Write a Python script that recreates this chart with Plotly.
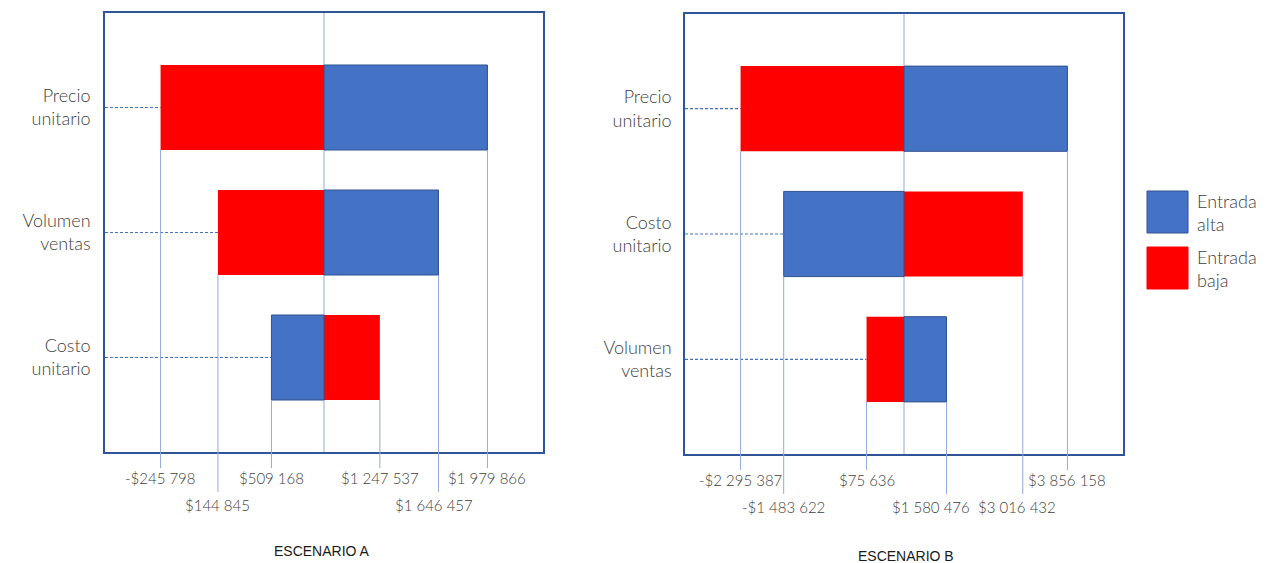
import plotly.graph_objects as go

# ---------------- data ----------------
categories_A = ["Precio<br>unitario", "Volumen<br>ventas", "Costo<br>unitario"]
alta_A = [1979866, 1646457, 509168]      # Entrada alta
baja_A = [-245798, 144845, 1247537]      # Entrada baja
base_A = 867034

categories_B = ["Precio<br>unitario", "Costo<br>unitario", "Volumen<br>ventas"]
alta_B = [3856158, -1483622, 1580476]
baja_B = [-2295387, 3016432, 75636]
base_B = 780385

# label row (1 = upper, 2 = lower) and horizontal nudge (px) for each value label
row_alta_A = [1, 2, 1]
row_baja_A = [1, 2, 1]
row_alta_B = [1, 2, 2]
row_baja_B = [1, 2, 1]
shift_alta_A = [0, -4, 0]
shift_baja_A = [0, 0, 0]
shift_alta_B = [0, 0, -16]
shift_baja_B = [0, -6, 0]

BLUE = "#4472C4"
RED = "#FF0000"
LIGHT = "#8FAADC"
BOX = "#2F5597"
TXT = "#404040"
FONT = "Lato"

W, H = 1267, 563
BAR_W = 0.68
Y_PAD = 0.756


def money(v):
    s = f"{abs(v):,}".replace(",", " ")
    return ("-" if v < 0 else "") + "$" + s


fig = go.Figure()
shapes = []
annotations = []

panels = [
    dict(cats=categories_A, alta=alta_A, baja=baja_A, base=base_A,
         ra=row_alta_A, rb=row_baja_A, sa=shift_alta_A, sb=shift_baja_A,
         xa="x", ya="y", standoff=9,
         xdom=[105 / W, 543 / W], ydom=[1 - 452 / H, 1 - 13 / H],
         title="ESCENARIO A", tx=322 / W, ty=1 - 551 / H),
    dict(cats=categories_B, alta=alta_B, baja=baja_B, base=base_B,
         ra=row_alta_B, rb=row_baja_B, sa=shift_alta_B, sb=shift_baja_B,
         xa="x2", ya="y2", standoff=8,
         xdom=[685 / W, 1123 / W], ydom=[1 - 454 / H, 1 - 14 / H],
         title="ESCENARIO B", tx=906 / W, ty=1 - 556 / H),
]

layout_axes = {}
for k, p in enumerate(panels):
    n = len(p["cats"])
    idx = list(range(n))
    base = p["base"]
    maxdev = max(abs(v - base) for v in p["alta"] + p["baja"])
    xr = [base - 1.34 * maxdev, base + 1.34 * maxdev]
    yr = [n - 1 + Y_PAD, -Y_PAD]
    dom_h_px = (p["ydom"][1] - p["ydom"][0]) * H

    fig.add_trace(go.Bar(
        y=idx, x=[v - base for v in p["baja"]], base=base, orientation="h",
        width=BAR_W, marker=dict(color=RED, line=dict(width=0)),
        name="Entrada baja", showlegend=False, xaxis=p["xa"], yaxis=p["ya"]))
    fig.add_trace(go.Bar(
        y=idx, x=[v - base for v in p["alta"]], base=base, orientation="h",
        width=BAR_W, marker=dict(color=BLUE, line=dict(color="#2F528F", width=1)),
        name="Entrada alta", showlegend=False, xaxis=p["xa"], yaxis=p["ya"]))

    # centre line
    shapes.append(dict(type="line", xref=p["xa"], yref=p["ya"] + " domain",
                       x0=base, x1=base, y0=0, y1=1, layer="below",
                       line=dict(color=LIGHT, width=1)))
    for i in idx:
        lo = min(p["alta"][i], p["baja"][i])
        # dashed leader from category label to bar
        shapes.append(dict(type="line", xref=p["xa"], yref=p["ya"],
                           x0=xr[0], x1=lo, y0=i, y1=i, layer="below",
                           line=dict(color=BLUE, width=1.2, dash="3px,2px")))
        for v, r, sh in ((p["alta"][i], p["ra"][i], p["sa"][i]),
                         (p["baja"][i], p["rb"][i], p["sb"][i])):
            end_px = 16 if r == 1 else 40
            lab_px = 26 if r == 1 else 53
            shapes.append(dict(type="line", xref=p["xa"], yref=p["ya"],
                               x0=v, x1=v, y0=i + BAR_W / 2, y1=yr[0],
                               line=dict(color=LIGHT, width=1)))
            shapes.append(dict(type="line", xref=p["xa"], yref=p["ya"] + " domain",
                               x0=v, x1=v, y0=0, y1=-end_px / dom_h_px,
                               line=dict(color=LIGHT, width=1)))
            annotations.append(dict(text=money(v), xref=p["xa"], yref=p["ya"] + " domain",
                                    x=v, y=-lab_px / dom_h_px, xshift=sh, showarrow=False,
                                    xanchor="center", yanchor="middle",
                                    font=dict(family=FONT, size=15, color=TXT, weight=300)))

    annotations.append(dict(text=p["title"], xref="paper", yref="paper",
                            x=p["tx"], y=p["ty"], showarrow=False,
                            xanchor="center", yanchor="middle",
                            font=dict(family="Liberation Sans", size=14, color="#1a1a1a")))

    sfx = "" if k == 0 else str(k + 1)
    layout_axes["xaxis" + sfx] = dict(
        domain=p["xdom"], range=xr, anchor="y" + sfx, showgrid=False, zeroline=False,
        showticklabels=False, ticks="", showline=True, mirror=True,
        linecolor=BOX, linewidth=1.5, fixedrange=True)
    layout_axes["yaxis" + sfx] = dict(
        domain=p["ydom"], range=yr, anchor="x" + sfx, showgrid=False, zeroline=False,
        tickmode="array", tickvals=idx, ticktext=p["cats"], ticks="",
        ticklabelstandoff=p["standoff"],
        tickfont=dict(family=FONT, size=18, color=TXT, weight=300),
        showline=True, mirror=True, linecolor=BOX, linewidth=1.5, fixedrange=True)

# legend drawn manually
leg = [(BLUE, "Entrada<br>alta", 191, 233), (RED, "Entrada<br>baja", 247, 289)]
for col, txt, y0, y1 in leg:
    shapes.append(dict(type="rect", xref="paper", yref="paper",
                       x0=1147 / W, x1=1188 / W, y0=1 - y1 / H, y1=1 - y0 / H,
                       fillcolor=col,
                       line=dict(color="#2F528F" if col == BLUE else col, width=1)))
    annotations.append(dict(text=txt, xref="paper", yref="paper",
                            x=1195 / W, y=1 - (y0 + y1) / 2 / H, showarrow=False,
                            xanchor="left", yanchor="middle", align="left",
                            font=dict(family=FONT, size=18, color=TXT, weight=300)))

fig.update_layout(
    width=W, height=H, margin=dict(l=0, r=0, t=0, b=0),
    paper_bgcolor="white", plot_bgcolor="white",
    barmode="overlay", showlegend=False,
    shapes=shapes, annotations=annotations, **layout_axes)

fig.write_html("out.html")
